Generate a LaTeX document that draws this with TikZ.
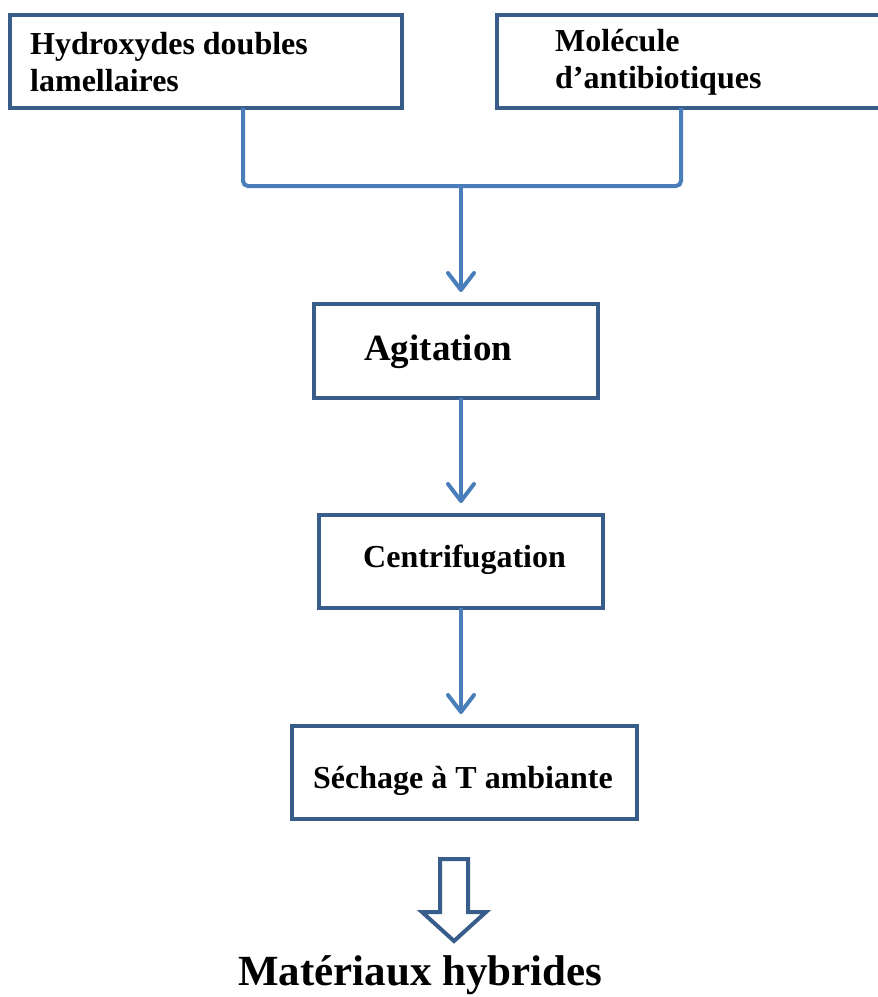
\documentclass[tikz,border=0pt]{standalone}
\usepackage{fontspec}
\setmainfont{Liberation Serif}
\usetikzlibrary{arrows.meta}
\definecolor{boxblue}{HTML}{385D8A}
\definecolor{lineblue}{HTML}{4A7EBB}
\begin{document}
\begin{tikzpicture}[x=1pt,y=-1pt,
  stepbox/.style={draw=boxblue, line width=4pt, rectangle, inner sep=0pt, outer sep=0pt},
  conn/.style={draw=lineblue, line width=4pt},
  arr/.style={conn, -{Straight Barb[length=17pt,width=26pt,line cap=round,line join=round]}, shorten >=12pt},
  lbl/.style={font=\fontsize{32}{37}\selectfont\bfseries, align=left, inner sep=0pt},
  biglbl/.style={font=\fontsize{37}{44}\selectfont\bfseries, inner sep=0pt},
  midlbl/.style={font=\fontsize{32}{37}\selectfont\bfseries, inner sep=0pt}
]
\clip (0,0) rectangle (878,997);
\path[use as bounding box] (0,0) rectangle (878,997);

% top boxes
\node[stepbox, minimum width=392pt, minimum height=93pt] (hdl) at (206,61.5) {};
\node[lbl, anchor=west] (hdltxt) at (30,62) {Hydroxydes doubles\\lamellaires};
\node[stepbox, minimum width=388pt, minimum height=93pt] (mol) at (691,61.5) {};
\node[lbl, anchor=west] (moltxt) at (555,62) {Molécule\\d’antibiotiques};

% process boxes
\node[stepbox, minimum width=284pt, minimum height=94pt] (agit) at (456,351) {};
\node[biglbl, anchor=base west] (agittxt) at (364,360) {Agitation};
\node[stepbox, minimum width=284pt, minimum height=93pt] (centr) at (461,561.5) {};
\node[midlbl, anchor=base west] (centrtxt) at (363,567) {Centrifugation};
\node[stepbox, minimum width=345pt, minimum height=93pt] (sech) at (464.5,772.5) {};
\node[midlbl, anchor=base west] (sechtxt) at (313,788) {Séchage à T ambiante};

% junction connector
\coordinate (j) at (461,186);
\draw[conn, rounded corners=5pt] ([xshift=37pt]hdl.south) |- (j) -| ([xshift=-10pt]mol.south);

% arrows
\draw[arr] (j) -- (j |- agit.north);
\draw[arr] (agit.south -| j) -- (centr.north -| j);
\draw[arr] (centr.south -| j) -- (sech.north -| j);

% hollow arrow
\coordinate (ha) at (454,859);
\draw[boxblue, line width=4pt, miter limit=10]
  ([xshift=-14pt]ha) -- ([xshift=14pt]ha) -- ([xshift=14pt,yshift=-53pt]ha)
  -- ([xshift=32pt,yshift=-53pt]ha) -- ([yshift=-82pt]ha)
  -- ([xshift=-32pt,yshift=-53pt]ha) -- ([xshift=-14pt,yshift=-53pt]ha) -- cycle;

% result
\node[font=\fontsize{43}{50}\selectfont\bfseries, anchor=base west, inner sep=0pt] (mat) at (238,985) {Matériaux hybrides};
\end{tikzpicture}
\end{document}
